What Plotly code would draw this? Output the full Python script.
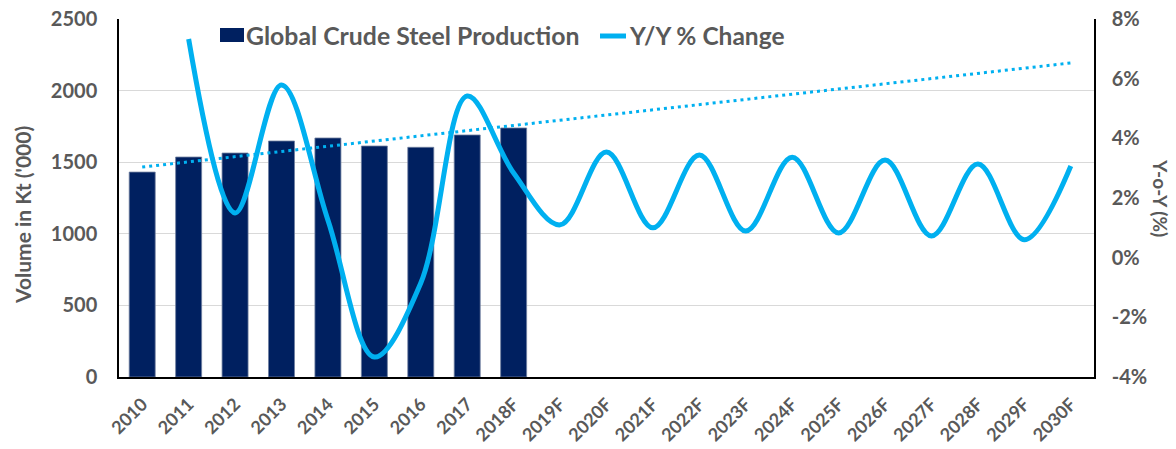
import plotly.graph_objects as go

categories = ["2010", "2011", "2012", "2013", "2014", "2015", "2016", "2017", "2018F",
              "2019F", "2020F", "2021F", "2022F", "2023F", "2024F", "2025F", "2026F",
              "2027F", "2028F", "2029F", "2030F"]
production = [1431, 1536, 1564, 1648, 1669, 1613, 1604, 1690, 1739]
yoy_categories = categories[1:]
yoy_change = [7.33, 1.5, 5.79, 1.26, -3.33, -0.85, 5.42, 2.84, 1.1, 3.54, 1.0,
              3.44, 0.89, 3.37, 0.83, 3.27, 0.73, 3.14, 0.6, 3.07]
trend_categories = ["2010", "2030F"]
trend_values = [1466, 2193]
y2_ticks = [-4, -2, 0, 2, 4, 6, 8]
y2_ticklabels = ["-4%", "-2%", "0%", "2%", "4%", "6%", "8%"]

FONT = "Lato"
GRAY = "#595959"
NAVY = "#002060"
CYAN = "#00B0F0"

L, R, T, B = 119, 82, 19, 72
W, H = 1176, 449
PW, PH = W - L - R, H - T - B


def px(x):
    return (x - L) / PW


def py(y):
    return (H - B - y) / PH


fig = go.Figure()
fig.add_trace(go.Bar(
    x=categories[:len(production)], y=production, name="Global Crude Steel Production",
    marker=dict(color=NAVY, line=dict(color="#6F7FA0", width=0.8)),
    yaxis="y",
))
fig.add_trace(go.Scatter(
    x=yoy_categories, y=yoy_change, name="Y/Y % Change", mode="lines",
    line=dict(color=CYAN, width=5, shape="spline", smoothing=1.0),
    yaxis="y2",
))
fig.add_trace(go.Scatter(
    x=trend_categories, y=trend_values, mode="lines",
    line=dict(color=CYAN, width=3, dash="3px,4px"), yaxis="y",
))

fig.update_layout(
    width=W, height=H,
    margin=dict(l=L, r=R, t=T, b=B),
    paper_bgcolor="white", plot_bgcolor="white",
    font=dict(family=FONT, color=GRAY, size=18),
    bargap=0.44,
    showlegend=False,
    xaxis=dict(
        type="category", categoryorder="array", categoryarray=categories,
        range=[-0.5, 20.5], tickangle=-45, automargin=False,
        tickfont=dict(family=FONT, size=18, color=GRAY, weight="bold"),
        showline=True, linecolor="black", linewidth=1.5, ticks="", showgrid=False,
        ticklabelstandoff=8,
    ),
    yaxis=dict(
        range=[0, 2500], dtick=500, showgrid=True, gridcolor="#D9D9D9", gridwidth=1,
        showline=True, linecolor="black", linewidth=1.5, zeroline=False,
        tickfont=dict(family=FONT, size=20, color=GRAY, weight="bold"),
        ticks="", ticklabelstandoff=16, automargin=False,
    ),
    yaxis2=dict(
        range=[-4, 8], tickvals=y2_ticks, ticktext=y2_ticklabels,
        overlaying="y", side="right", showgrid=False, zeroline=False,
        showline=True, linecolor="black", linewidth=1.5, automargin=False,
        tickfont=dict(family=FONT, size=20, color=GRAY, weight="bold"),
        ticks="", ticklabelstandoff=12,
    ),
    shapes=[
        dict(type="rect", xref="paper", yref="paper",
             x0=px(220), x1=px(244), y0=py(42), y1=py(28),
             fillcolor=NAVY, line=dict(width=0)),
        dict(type="line", xref="paper", yref="paper",
             x0=px(600), x1=px(626), y0=py(36), y1=py(36),
             line=dict(color=CYAN, width=5)),
    ],
    annotations=[
        dict(text="Global Crude Steel Production", xref="paper", yref="paper",
             x=px(244), y=py(36), xanchor="left", yanchor="middle", showarrow=False,
             font=dict(family=FONT, size=24.8, color=GRAY, weight="bold")),
        dict(text="Y/Y % Change", xref="paper", yref="paper",
             x=px(627), y=py(36), xanchor="left", yanchor="middle", showarrow=False,
             font=dict(family=FONT, size=24.5, color=GRAY, weight="bold")),
        dict(text="Volume in Kt ('000)", xref="paper", yref="paper", x=px(22), y=py(215),
             xanchor="center", yanchor="middle", textangle=-90, showarrow=False,
             font=dict(family=FONT, size=21, color=GRAY, weight="bold")),
        dict(text="Y-o-Y (%)", xref="paper", yref="paper", x=px(1161), y=py(198),
             xanchor="center", yanchor="middle", textangle=90, showarrow=False,
             font=dict(family=FONT, size=19, color=GRAY, weight="bold")),
    ],
)

fig.write_html("out.html", config={"displayModeBar": False},
               post_script="document.body.style.margin='0';")
